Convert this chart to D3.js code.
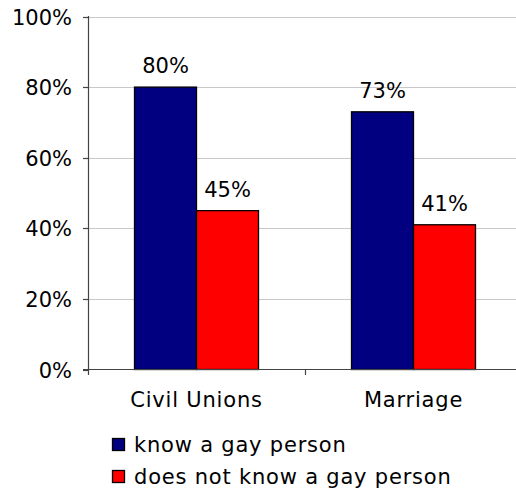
<!DOCTYPE html>
<html><head><meta charset="utf-8">
<script src="https://cdn.jsdelivr.net/npm/d3@7"></script>
<style>body{margin:0;background:#fff}svg{display:block}text{font-family:"DejaVu Sans",Verdana,sans-serif;fill:#000}</style>
</head><body>
<svg id="c" width="516" height="491"></svg>
<script>
const categories = ["Civil Unions", "Marriage"];
const seriesNames = ["know a gay person", "does not know a gay person"];
const knowValues = [80, 73];
const notKnowValues = [45, 41];
const yTicks = [0, 20, 40, 60, 80, 100];
const colors = ["#000080", "#FF0000"];

const svg = d3.select("#c");
const fs = 21;
const x = d3.scaleBand().domain(categories).range([88, 522]);
const inner = d3.scaleBand().domain(seriesNames).range([0, x.bandwidth()]).paddingInner(0).paddingOuter(0.75);
const y = d3.scaleLinear().domain([0, 100]).range([369.5, 16.5]);

// gridlines
svg.append("g").selectAll("line").data(yTicks.filter(d => d > 0)).join("line")
  .attr("x1", 88).attr("x2", 516).attr("y1", d => Math.round(y(d)) + 0.5).attr("y2", d => Math.round(y(d)) + 0.5)
  .attr("stroke", "#c8c8c8").attr("stroke-width", 1);

const data = [];
categories.forEach((c, i) => {
  data.push({cat: c, s: seriesNames[0], v: knowValues[i], col: colors[0]});
  data.push({cat: c, s: seriesNames[1], v: notKnowValues[i], col: colors[1]});
});

svg.append("g").selectAll("rect").data(data).join("rect")
  .attr("x", d => x(d.cat) + inner(d.s))
  .attr("y", d => y(d.v))
  .attr("width", inner.bandwidth())
  .attr("height", d => y(0) - y(d.v))
  .attr("fill", d => d.col).attr("stroke", "#000").attr("stroke-width", 1.3);

svg.append("g").selectAll("text").data(data).join("text")
  .attr("x", d => x(d.cat) + inner(d.s) + inner.bandwidth() / 2)
  .attr("y", d => y(d.v) - 14)
  .attr("text-anchor", "middle").attr("font-size", fs)
  .text(d => d.v + "%");

// axes
const ax = svg.append("g").attr("stroke", "#444").attr("stroke-width", 1.2);
ax.append("line").attr("x1", 88.5).attr("x2", 88.5).attr("y1", 16).attr("y2", 370);
ax.append("line").attr("x1", 83).attr("x2", 516).attr("y1", 369.5).attr("y2", 369.5);
ax.selectAll(".yt").data(yTicks).join("line")
  .attr("x1", 83).attr("x2", 88.5).attr("y1", d => Math.round(y(d)) + 0.5).attr("y2", d => Math.round(y(d)) + 0.5);
ax.selectAll(".xt").data([x.range()[0], ...categories.slice(1).map(c => x(c))]).join("line")
  .attr("x1", d => Math.round(d) + 0.5).attr("x2", d => Math.round(d) + 0.5).attr("y1", 369.5).attr("y2", 375);

svg.append("g").selectAll("text").data(yTicks).join("text")
  .attr("x", 72).attr("y", d => y(d) + 8).attr("text-anchor", "end").attr("font-size", fs)
  .text(d => d + "%");

svg.append("g").selectAll("text").data(categories).join("text")
  .attr("x", d => x(d) + x.bandwidth() / 2).attr("y", 407).attr("text-anchor", "middle")
  .attr("font-size", fs).attr("letter-spacing", 0.8)
  .text(d => d);

// legend
const lg = svg.append("g").selectAll("g").data(seriesNames).join("g")
  .attr("transform", (d, i) => `translate(112,${438 + i * 32})`);
lg.append("rect").attr("width", 12).attr("height", 12).attr("x", 0.5).attr("y", 0.5)
  .attr("fill", (d, i) => colors[i]).attr("stroke", "#000").attr("stroke-width", 1.3);
lg.append("text").attr("x", 22).attr("y", 14).attr("font-size", fs).attr("letter-spacing", 0.8).text(d => d);
</script>
</body></html>
